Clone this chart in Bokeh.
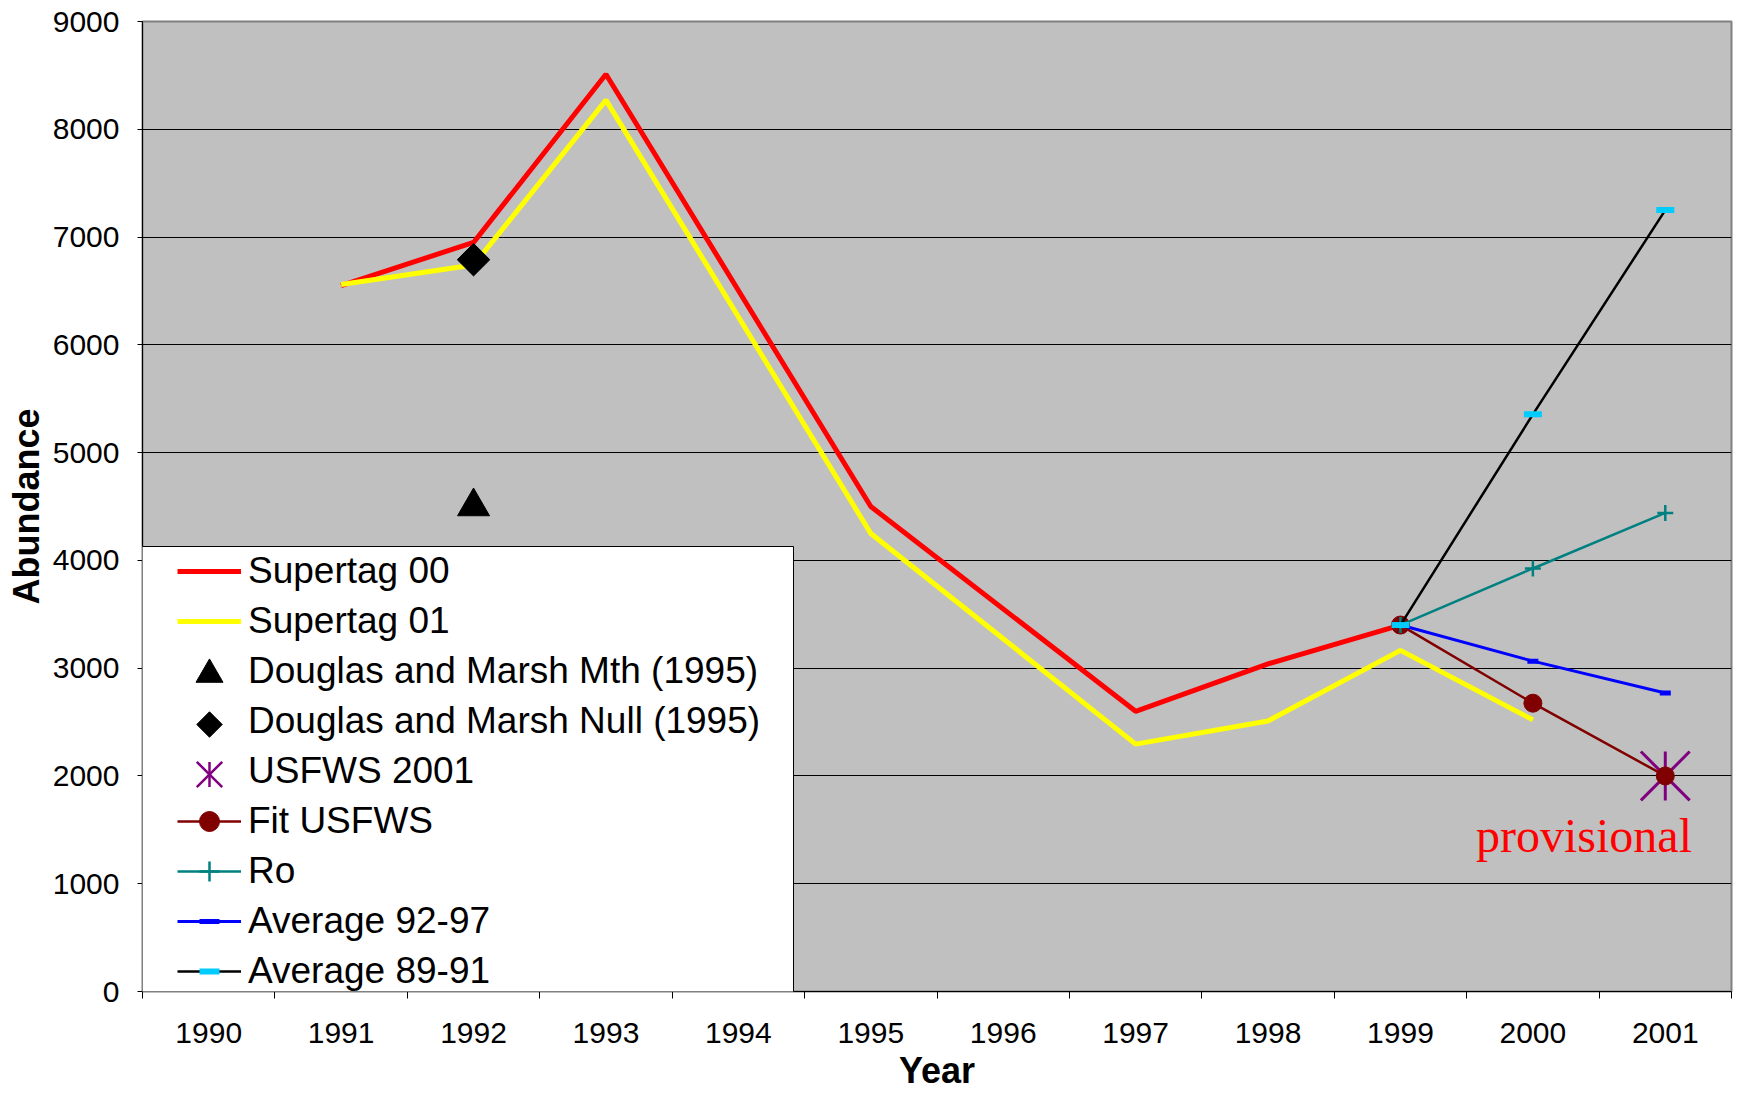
import math
from bokeh.plotting import figure
from bokeh.models import Range1d, FixedTicker, Legend, LegendItem, BoxAnnotation, Label
from bokeh.embed import file_html
from bokeh.resources import INLINE

# ---- data ----
years = [1990, 1991, 1992, 1993, 1994, 1995, 1996, 1997, 1998, 1999, 2000, 2001]
y_ticks = [0, 1000, 2000, 3000, 4000, 5000, 6000, 7000, 8000, 9000]

st00_years = [1991, 1992, 1993, 1995, 1997, 1998, 1999]
st00_vals = [6550, 6950, 8510, 4500, 2600, 3040, 3400]

st01_years = [1991, 1992, 1993, 1995, 1997, 1998, 1999, 2000]
st01_vals = [6560, 6740, 8270, 4250, 2295, 2510, 3165, 2520]

mth_years = [1992]
mth_vals = [4500]
null_years = [1992]
null_vals = [6790]
usfws_years = [2001]
usfws_vals = [2000]

proj_years = [1999, 2000, 2001]
fit_vals = [3400, 2675, 2000]
ro_vals = [3400, 3925, 4440]
avg9297_vals = [3400, 3065, 2770]
avg8991_vals = [3400, 5355, 7250]

labels = ["Supertag 00", "Supertag 01", "Douglas and Marsh Mth (1995)",
          "Douglas and Marsh Null (1995)", "USFWS 2001", "Fit USFWS", "Ro",
          "Average 92-97", "Average 89-91"]
x_title = "Year"
y_title = "Abundance"
note = "provisional"

FONT = "Liberation Sans"

# ---- layout (screen pixels) ----
W, H = 1743, 1097
FL, FR, FT, FB = 142, 1731, 21, 991              # plot frame edges
LEG_L, LEG_R, LEG_T, LEG_B = 136, 793, 546, 992  # legend panel
ROW_H = 50
ROWS_TOP = 546
GLYPH_L = 177
GLYPH_W = 64

x0, x1 = years[0] - 0.5, years[-1] + 0.5
px_x = (FR - FL) / (x1 - x0)
px_y = (FB - FT) / (y_ticks[-1] - y_ticks[0])


def sx_to_data(sx):
    return x0 + (sx - FL) / px_x


def sy_to_data(sy):
    return (FB - sy) / px_y


p = figure(width=W, height=H, output_backend="svg", toolbar_location=None,
           x_range=Range1d(x0, x1), y_range=Range1d(y_ticks[0], y_ticks[-1]),
           min_border_left=FL, min_border_right=W - FR, min_border_top=FT,
           min_border_bottom=H - FB)
p.background_fill_color = "#C0C0C0"
p.border_fill_color = "white"
p.outline_line_color = "#808080"
p.outline_line_width = 2

# axes
p.xaxis.ticker = FixedTicker(ticks=years, minor_ticks=[y - 0.5 for y in years] + [years[-1] + 0.5])
p.xaxis.major_tick_line_color = None
p.xaxis.major_tick_out = 0
p.xaxis.major_tick_in = 0
p.xaxis.minor_tick_line_color = "black"
p.xaxis.minor_tick_out = 7
p.xaxis.minor_tick_in = 0
p.xaxis.major_label_text_font = FONT
p.xaxis.major_label_text_font_size = "30px"
p.xaxis.major_label_text_color = "black"
p.xaxis.major_label_standoff = 24
p.xaxis.axis_label = x_title
p.xaxis.axis_label_text_font = FONT
p.xaxis.axis_label_text_font_size = "36px"
p.xaxis.axis_label_text_font_style = "bold"
p.xaxis.axis_label_text_color = "black"
p.xaxis.axis_label_standoff = 4
p.xaxis.axis_line_color = "black"

p.yaxis.ticker = FixedTicker(ticks=y_ticks)
p.yaxis.minor_tick_line_color = None
p.yaxis.major_tick_out = 5
p.yaxis.major_tick_in = 0
p.yaxis.major_tick_line_color = "black"
p.yaxis.major_label_text_font = FONT
p.yaxis.major_label_text_font_size = "30px"
p.yaxis.major_label_text_color = "black"
p.yaxis.major_label_standoff = 18
p.yaxis.axis_label = y_title
p.yaxis.axis_label_text_font = FONT
p.yaxis.axis_label_text_font_size = "36px"
p.yaxis.axis_label_text_font_style = "bold"
p.yaxis.axis_label_text_color = "black"
p.yaxis.axis_label_standoff = 3
p.yaxis.axis_line_color = "black"

p.xgrid.visible = False
p.ygrid.grid_line_color = "black"
p.ygrid.grid_line_width = 1

# series
r_st00 = p.line(st00_years, st00_vals, line_color="#FF0000", line_width=5)
r_st01 = p.line(st01_years, st01_vals, line_color="#FFFF00", line_width=5)
r_mth = p.scatter(mth_years, mth_vals, marker="triangle", size=32, color="black")
r_null = p.scatter(null_years, null_vals, marker="square", angle=math.pi / 4, size=23, color="black")
r_us1 = p.scatter(usfws_years, usfws_vals, marker="x", size=69, line_color="#800080", line_width=3)
r_us2 = p.scatter(usfws_years, usfws_vals, marker="dash", angle=math.pi / 2, size=49,
                  line_color="#800080", line_width=3)
r_fit_l = p.line(proj_years, fit_vals, line_color="#800000", line_width=2.5)
r_fit_m = p.scatter(proj_years, fit_vals, marker="circle", size=18, color="#800000")
r_ro_l = p.line(proj_years, ro_vals, line_color="#008080", line_width=2.5)
r_ro_m = p.scatter(proj_years, ro_vals, marker="cross", size=16, line_color="#008080", line_width=2.5)
r_a1_l = p.line(proj_years, avg9297_vals, line_color="#0000FF", line_width=3)
r_a1_m = p.scatter(proj_years, avg9297_vals, marker="dash", size=11, line_color="#0000FF", line_width=5)
r_a2_l = p.line(proj_years, avg8991_vals, line_color="black", line_width=2.5)
r_a2_m = p.scatter(proj_years, avg8991_vals, marker="dash", size=18, line_color="#00CCFF", line_width=6)

# invisible placeholder used by marker-only legend rows (symbols drawn below)
r_blank = p.line(proj_years, fit_vals, line_alpha=0.0, visible=False)

# "provisional" note
p.add_layout(Label(x=sx_to_data(1583.5), y=sy_to_data(835), text=note,
                   text_font="Liberation Serif", text_font_size="48px", text_color="#FF0000",
                   text_align="center", text_baseline="middle"))

# legend panel
box = BoxAnnotation(left=sx_to_data(LEG_L), right=sx_to_data(LEG_R),
                    top=sy_to_data(LEG_T), bottom=sy_to_data(LEG_B),
                    fill_color="white", fill_alpha=1.0, line_color="black", line_alpha=1.0,
                    line_width=1)
p.add_layout(box)

items = [
    LegendItem(label=labels[0], renderers=[r_st00]),
    LegendItem(label=labels[1], renderers=[r_st01]),
    LegendItem(label=labels[2], renderers=[r_blank]),
    LegendItem(label=labels[3], renderers=[r_blank]),
    LegendItem(label=labels[4], renderers=[r_blank]),
    LegendItem(label=labels[5], renderers=[r_fit_l, r_fit_m]),
    LegendItem(label=labels[6], renderers=[r_ro_l, r_ro_m]),
    LegendItem(label=labels[7], renderers=[r_a1_l, r_a1_m]),
    LegendItem(label=labels[8], renderers=[r_a2_l, r_a2_m]),
]
legend = Legend(items=items, location=(GLYPH_L - FL, FB - (ROWS_TOP + ROW_H * len(items))),
                padding=0, spacing=0, margin=0,
                glyph_width=GLYPH_W, glyph_height=ROW_H, label_height=ROW_H, label_standoff=7,
                label_text_font=FONT, label_text_font_size="37px", label_text_color="black",
                border_line_color=None, background_fill_alpha=0.0, click_policy="none")
p.add_layout(legend)

# legend symbols for the marker-only series
gx = sx_to_data(GLYPH_L + GLYPH_W / 2)


def row_y(i):
    return sy_to_data(ROWS_TOP + ROW_H * i + ROW_H / 2 + 3)


lm = p.scatter([gx], [row_y(2)], marker="triangle", size=27, color="black")
ld = p.scatter([gx], [row_y(3)], marker="square", angle=math.pi / 4, size=18, color="black")
lu1 = p.scatter([gx], [row_y(4)], marker="x", size=36, line_color="#800080", line_width=2.5)
lu2 = p.scatter([gx], [row_y(4)], marker="dash", angle=math.pi / 2, size=25, line_color="#800080",
                line_width=2.5)
for r in (lm, ld, lu1, lu2):
    r.level = "overlay"

open("out.html", "w").write(file_html(p, INLINE))
